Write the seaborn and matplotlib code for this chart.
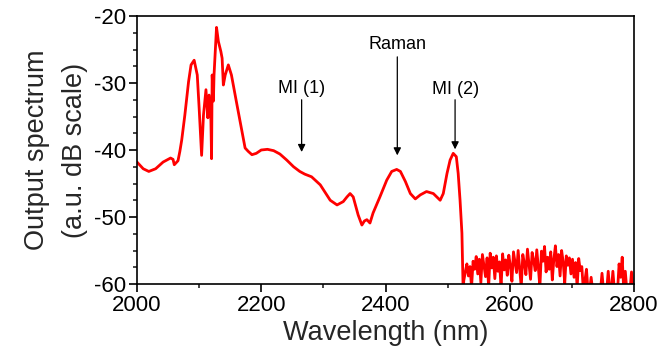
import numpy as np
import pandas as pd
import matplotlib
matplotlib.use("Agg")
import matplotlib.pyplot as plt
import seaborn as sns
from matplotlib.ticker import MultipleLocator

# Main spectrum (hand-read)
main_wl = [2000, 2010, 2019, 2030, 2042, 2054, 2058, 2060, 2063, 2066, 2069, 2072,
           2077, 2083, 2087, 2092, 2097, 2100, 2104, 2107, 2111, 2114, 2116, 2119,
           2120, 2121, 2123, 2124, 2128, 2131, 2135, 2137, 2139, 2142, 2147, 2152,
           2160, 2168, 2174, 2179, 2185, 2192, 2200, 2210, 2220, 2230, 2241, 2252,
           2262, 2270, 2281, 2295, 2311, 2322, 2332, 2338, 2343, 2348, 2356, 2362,
           2366, 2370, 2375, 2380, 2391, 2402, 2410, 2418, 2424, 2432, 2440, 2448,
           2456, 2466, 2477, 2488, 2493, 2499, 2504, 2509, 2514, 2517, 2520, 2523,
           2525]
main_db = [-41.8, -42.8, -43.2, -42.8, -41.8, -41.2, -41.4, -42.2, -41.9, -41.6, -40.2, -38.5,
           -34.8, -29.8, -27.3, -26.6, -28.8, -33.7, -40.8, -34.8, -31.0, -35.2, -31.8, -35.6,
           -41.3, -28.8, -32.7, -28.8, -21.7, -23.8, -25.3, -26.3, -30.3, -28.8, -27.3, -28.8,
           -32.8, -36.7, -39.7, -40.2, -40.7, -40.5, -40.0, -39.9, -40.1, -40.6, -41.5, -42.5,
           -43.2, -43.6, -44.0, -45.2, -47.5, -48.2, -47.7, -47.0, -46.5, -47.0, -49.7, -51.2,
           -50.6, -50.4, -50.9, -49.4, -47.0, -44.5, -43.2, -42.9, -43.2, -44.7, -46.5, -47.3,
           -46.7, -46.2, -46.5, -47.5, -46.5, -43.5, -41.5, -40.5, -41.0, -43.5, -47.5, -52.4,
           -61.0]

# Noise floor (hand-read, 2.5 nm steps from 2526 nm)
floor_db = [-59.5, -58.2, -57.0, -58.8, -57.4, -60.5, -56.6,
            -57.8, -55.9, -58.5, -56.3, -59.8, -55.6, -57.2, -58.9, -56.1, -60.5, -55.4, -57.6,
            -56.0, -59.2, -55.8, -58.1, -56.7, -60.5, -55.5, -57.9, -56.4, -58.7, -55.7,
            -57.3, -59.6, -55.2, -56.8, -58.3, -55.0, -57.7, -60.5, -55.6, -56.9, -58.6, -54.8,
            -57.1, -59.3, -55.3, -56.5, -58.0, -54.9, -57.5, -60.5,
            -55.1, -56.6, -54.4, -58.2, -56.0, -57.8, -55.2, -59.4, -56.3, -54.3, -57.4, -55.6,
            -58.8, -55.0, -56.7, -59.9, -55.8, -57.2, -56.1, -58.5,
            -56.3, -59.0, -56.8, -60.5, -56.2, -58.0, -57.4,
            -61.0, -59.5, -57.8, -61.0, -61.0, -59.0, -61.0, -61.0, -61.0, -61.0, -61.0, -61.0,
            -58.4, -61.0, -61.0, -61.0, -58.1, -61.0, -61.0, -58.1, -61.0, -61.0, -61.0, -57.0,
            -59.0, -56.0, -61.0, -58.1, -61.0, -61.0, -61.0, -58.2, -61.0]
floor_wl = list(2526 + 2.5 * np.arange(len(floor_db)))

# Annotations
ann_labels = ["MI (1)", "Raman", "MI (2)"]
ann_wl = [2265, 2419, 2512]
ann_tip = [-40.3, -40.8, -39.9]
ann_top = [-32.5, -26.1, -32.5]
ann_text_y = [-30.8, -24.3, -30.9]

xticks = [2000, 2200, 2400, 2600, 2800]
yticks = [-60, -50, -40, -30, -20]

sns.set_theme(style="ticks")
plt.rcParams['font.family'] = ['Liberation Sans', 'DejaVu Sans']
plt.rcParams['axes.unicode_minus'] = False

df = pd.DataFrame({"wl": main_wl + floor_wl, "db": main_db + floor_db})

fig = plt.figure(figsize=(6.62, 3.56), dpi=100)
ax = fig.add_axes([137/662, 1 - 284/356, (634 - 137)/662, (284 - 16)/356])
sns.lineplot(data=df, x="wl", y="db", ax=ax, color="#ff0000", lw=2.0,
             sort=False, estimator=None)

ax.set_xlim(2000, 2800)
ax.set_ylim(-60, -20)
ax.set_xticks(xticks)
ax.set_yticks(yticks)
ax.xaxis.set_minor_locator(MultipleLocator(100))
ax.yaxis.set_minor_locator(MultipleLocator(2.5))
ax.tick_params(axis="both", which="major", direction="out", length=6, width=1.2,
               labelsize=16, colors="black")
ax.tick_params(axis="both", which="minor", direction="out", length=3, width=1.2)
ax.tick_params(axis="x", which="major", pad=2)
ax.tick_params(axis="y", which="major", pad=2)
for s in ax.spines.values():
    s.set_visible(True)
    s.set_linewidth(1.2)
    s.set_color("black")

ax.set_xlabel("Wavelength (nm)", fontsize=19.5, labelpad=3)
ax.set_ylabel("Output spectrum\n(a.u. dB scale)", fontsize=19.5, labelpad=4,
              linespacing=1.6)

for lab, x, tip, top, ty in zip(ann_labels, ann_wl, ann_tip, ann_top, ann_text_y):
    ax.annotate("", xy=(x, tip), xytext=(x, top),
                arrowprops=dict(arrowstyle="-|>", color="black", lw=0.9,
                                mutation_scale=11, shrinkA=0, shrinkB=0))
    ax.text(x, ty, lab, ha="center", va="center", fontsize=13, color="black")

fig.savefig("out.png", dpi=100)
